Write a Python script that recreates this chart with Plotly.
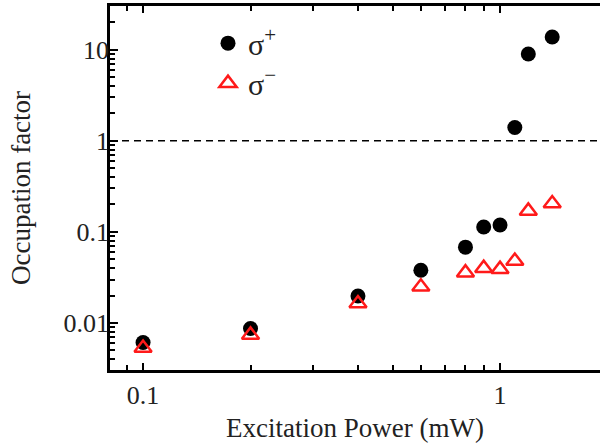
import plotly.graph_objects as go
import numpy as np

power = [0.1, 0.2, 0.4, 0.6, 0.8, 0.9, 1.0, 1.1, 1.2, 1.4]
sigma_plus = [0.0061, 0.0087, 0.0198, 0.038, 0.068, 0.113, 0.119, 1.40, 8.97, 13.8]
power_minus = [0.1, 0.2, 0.4, 0.6, 0.8, 0.9, 1.0, 1.1, 1.2, 1.4]
sigma_minus = [0.0053, 0.0074, 0.0164, 0.025, 0.0357, 0.040, 0.039, 0.048, 0.17, 0.205]

x_major = [0.1, 1]
x_major_text = ["0.1", "1"]
x_minor = [0.09, 0.2, 0.3, 0.4, 0.5, 0.6, 0.7, 0.8, 0.9, 2]
y_major = [0.01, 0.1, 1, 10]
y_major_text = ["0.01", "0.1", "1", "10"]
y_minor = [m * d for d in [0.001, 0.01, 0.1, 1, 10] for m in range(2, 10)]

FONT = "Liberation Serif, Times New Roman, serif"

fig = go.Figure()
fig.add_trace(go.Scatter(
    x=power, y=sigma_plus, mode="markers", name="σ<sup>+</sup>",
    marker=dict(symbol="circle", size=15, color="black"),
    legend="legend",
))
fig.add_trace(go.Scatter(
    x=power_minus, y=sigma_minus, mode="markers", name="σ<sup>−</sup>",
    marker=dict(symbol="triangle-up-open", size=15, color="#ff1a1a",
                line=dict(width=2.5, color="#ff1a1a")),
    legend="legend2",
))

fig.add_shape(type="line", xref="paper", yref="y", x0=0, x1=1, y0=1, y1=1,
              line=dict(color="black", width=1.5, dash="7px,5px"))

axis_common = dict(
    type="log", showgrid=False, zeroline=False,
    showline=True, linecolor="black", linewidth=2.5,
    ticks="inside", tickcolor="black", tickwidth=2,
    tickfont=dict(family=FONT, size=26, color="#222"),
)

fig.update_xaxes(
    **axis_common,
    range=[np.log10(0.0808), 0.28],
    tickmode="array", tickvals=x_major, ticktext=x_major_text, ticklen=7,
    mirror="allticks",
    minor=dict(tickmode="array", tickvals=x_minor, ticks="inside", ticklen=5,
               tickwidth=2, tickcolor="black", showgrid=False),
    title=dict(text="Excitation Power (mW)", font=dict(family=FONT, size=27, color="#222"),
               standoff=10),
)
fig.update_yaxes(
    **axis_common,
    range=[-2.516, 1.48],
    tickmode="array", tickvals=y_major, ticktext=y_major_text, ticklen=8,
    ticklabelstandoff=-7,
    mirror=False,
    minor=dict(tickmode="array", tickvals=y_minor, ticks="inside", ticklen=5,
               tickwidth=2, tickcolor="black", showgrid=False),
    title=dict(text="Occupation factor", font=dict(family=FONT, size=27, color="#222"),
               standoff=26),
)

legend_common = dict(font=dict(family=FONT, size=30, color="#222"),
                     bgcolor="rgba(0,0,0,0)", xanchor="left", yanchor="middle",
                     x=0.2, itemsizing="trace")

fig.update_layout(
    width=600, height=443,
    margin=dict(l=110, r=0, t=6, b=73),
    paper_bgcolor="white", plot_bgcolor="white",
    legend=dict(**legend_common, y=0.898),
    legend2=dict(**legend_common, y=0.788),
    showlegend=True,
)

fig.write_html("out.html")
